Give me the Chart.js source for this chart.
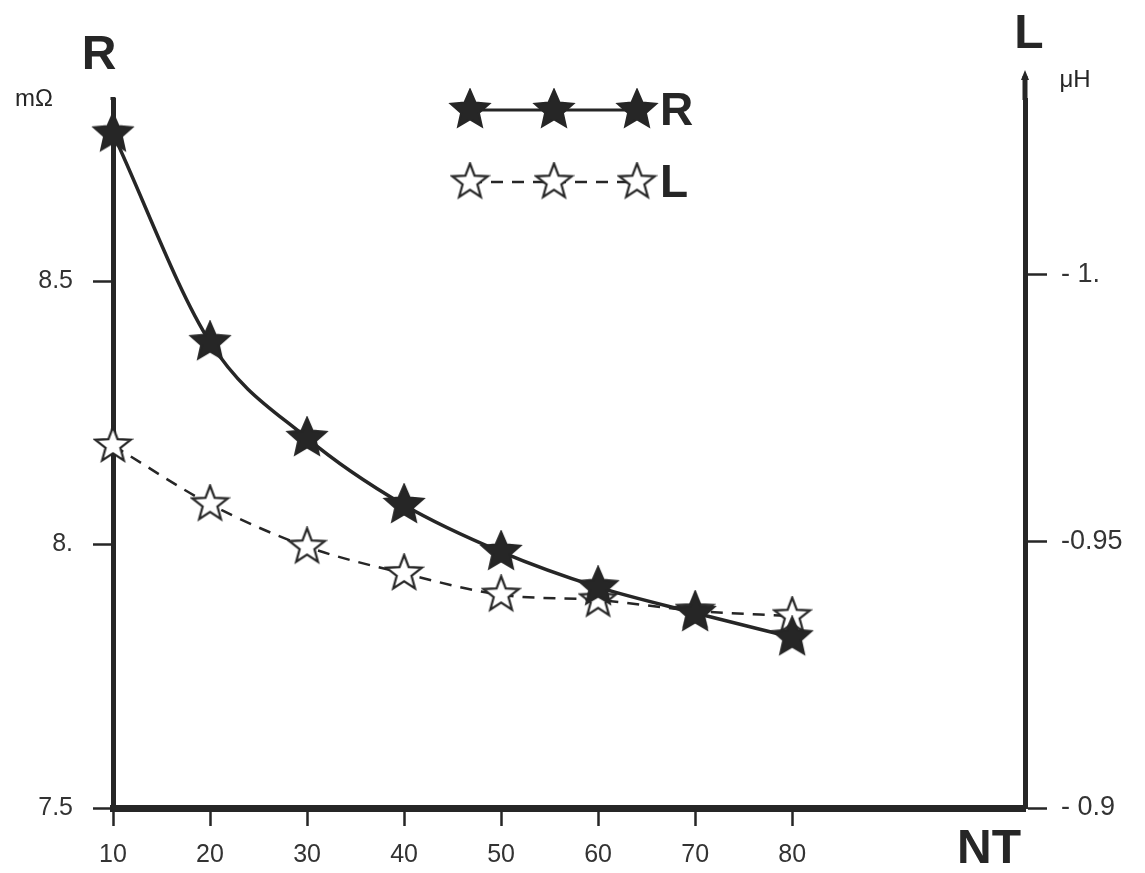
<!DOCTYPE html>
<html>
<head>
<meta charset="utf-8">
<script src="https://cdn.jsdelivr.net/npm/chart.js@4/dist/chart.umd.min.js"></script>
<style>
html,body{margin:0;padding:0;background:#fff;}
#wrap{width:1145px;height:873px;position:relative;}
</style>
</head>
<body>
<div id="wrap"><canvas id="c"></canvas></div>
<script>
// data
const nt=[10,20,30,40,50,60,70,80];
const rValues=[8.78,8.384,8.202,8.075,7.986,7.919,7.870,7.824];
const lValues=[-0.968,-0.957,-0.949,-0.944,-0.940,-0.939,-0.937,-0.936];
const xTicks=[10,20,30,40,50,60,70,80];
const rTicks=[7.5,8,8.5];
const rTickLabels=['7.5','8.','8.5'];
const lTicks=[-1,-0.95,-0.9];
const lTickLabels=['- 1.','-0.95','- 0.9'];

const ink='#262626';
const font='"Liberation Sans", Arial, sans-serif';

function makeStar(size,filled){
const cv=document.createElement('canvas');
cv.width=size;cv.height=size;
const g=cv.getContext('2d');
const c=size/2,ro=size/2-2,ri=ro*(filled?0.46:0.42);
g.beginPath();
for(let i=0;i<10;i++){
const r=i%2?ri:ro;
const a=-Math.PI/2+i*Math.PI/5;
g.lineTo(c+r*Math.cos(a),c+r*Math.sin(a));
}
g.closePath();
g.fillStyle=filled?ink:'#fff';
g.fill();
g.lineWidth=2.2;
g.strokeStyle=ink;
g.stroke();
return cv;
}
const fullStar=makeStar(44,true);
const openStar=makeStar(41,false);

const decor={
id:'decor',
afterDraw(chart){
const ctx=chart.ctx,a=chart.chartArea;
ctx.save();
// right axis goes up a bit higher, with arrow
ctx.strokeStyle=ink;ctx.fillStyle=ink;ctx.lineWidth=5;
ctx.beginPath();ctx.moveTo(a.right,a.top);ctx.lineTo(a.right,76);ctx.stroke();
ctx.beginPath();ctx.moveTo(a.right,70);ctx.lineTo(a.right-4,80);ctx.lineTo(a.right+4,80);ctx.closePath();ctx.fill();
// left axis top
ctx.beginPath();ctx.moveTo(a.left,a.top);ctx.lineTo(a.left,97);ctx.stroke();
// axis titles
ctx.fillStyle=ink;
ctx.textAlign='center';ctx.textBaseline='middle';
ctx.font='bold 48px '+font;
ctx.fillText('R',99,56);
ctx.fillText('L',1029,35);
ctx.fillText('NT',989,850);
ctx.font='24px '+font;
ctx.fillText('mΩ',34,99);
ctx.fillText('μH',1075,80);
// legend
const rows=[{y:110,img:fullStar,dash:[],t:'R',w:3},{y:182,img:openStar,dash:[12,9],t:'L',w:2.5}];
rows.forEach(r=>{
ctx.lineWidth=r.w;ctx.setLineDash(r.dash);
ctx.beginPath();ctx.moveTo(470,r.y);ctx.lineTo(637,r.y);ctx.stroke();
ctx.setLineDash([]);
[470,554,637].forEach(x=>ctx.drawImage(r.img,x-r.img.width/2,r.y-r.img.height/2));
ctx.font='bold 46px '+font;ctx.textAlign='left';
ctx.fillText(r.t,660,r.y+2);
});
ctx.restore();
}
};

new Chart(document.getElementById('c'),{
type:'line',
data:{
datasets:[
{label:'R',data:nt.map((x,i)=>({x:x,y:rValues[i]})),yAxisID:'yR',
borderColor:ink,borderWidth:3.5,pointStyle:fullStar,pointRadius:20,
cubicInterpolationMode:'monotone',clip:false},
{label:'L',data:nt.map((x,i)=>({x:x,y:lValues[i]})),yAxisID:'yL',
borderColor:ink,borderWidth:2.5,borderDash:[12,9],pointStyle:openStar,pointRadius:19,
cubicInterpolationMode:'monotone',clip:false}
]
},
options:{
responsive:true,maintainAspectRatio:false,animation:false,
layout:{padding:{top:100,left:0,right:0,bottom:0}},
plugins:{legend:{display:false},tooltip:{enabled:false}},
scales:{
x:{type:'linear',min:10,max:104,
afterBuildTicks(s){s.ticks=xTicks.map(v=>({value:v}));},
afterFit(s){s.height=65;},
grid:{drawOnChartArea:false,tickLength:18,tickWidth:2.5,tickColor:ink},
border:{display:true,width:7,color:ink},
ticks:{color:'#333',padding:14,font:{family:font,size:25},maxRotation:0}},
yR:{type:'linear',position:'left',min:7.5,max:8.8435,
afterBuildTicks(s){s.ticks=rTicks.map(v=>({value:v}));},
afterFit(s){s.width=113;},
grid:{drawOnChartArea:false,tickLength:20,tickWidth:2.5,tickColor:ink},
border:{display:true,width:5,color:ink},
ticks:{color:'#333',padding:20,font:{family:font,size:25},
callback:(v)=>{const i=rTicks.indexOf(v);return i<0?'':rTickLabels[i];}}},
yL:{type:'linear',position:'right',reverse:true,min:-1.0328,max:-0.9,
afterBuildTicks(s){s.ticks=lTicks.map(v=>({value:v}));},
afterFit(s){s.width=120;},
grid:{drawOnChartArea:false,tickLength:22,tickWidth:2.5,tickColor:ink},
border:{display:true,width:5,color:ink},
ticks:{color:'#333',padding:14,font:{family:font,size:27},
callback:(v)=>{const i=lTicks.indexOf(v);return i<0?'':lTickLabels[i];}}}
}
},
plugins:[decor]
});
</script>
</body>
</html>
